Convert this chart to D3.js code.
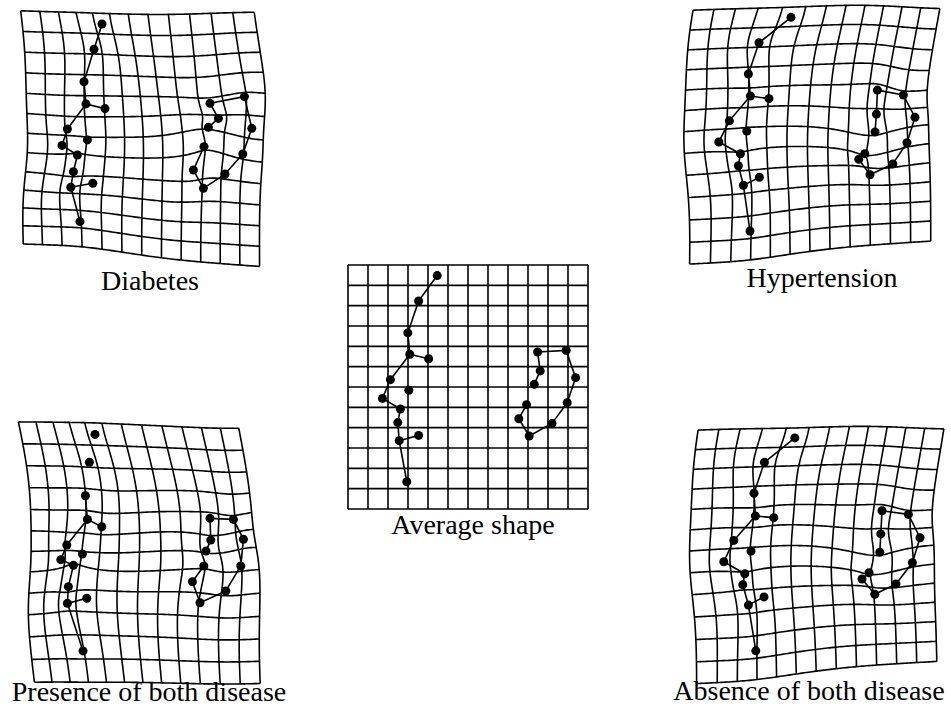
<!DOCTYPE html>
<html>
<head>
<meta charset="utf-8">
<script src="https://cdn.jsdelivr.net/npm/d3@7"></script>
<style>
  body { margin: 0; background: #fff; }
  svg { display: block; }
  text { font-family: "Liberation Serif", "Times New Roman", serif; font-size: 28px; fill: #000; }
</style>
</head>
<body>
<script>
// landmark coordinates in grid units (12 x 12 cells)
// 0-12: left chain, 13-22: right loop
const averageShape = [
  [4.46, 0.52], [3.53, 1.77], [2.99, 3.34], [3.09, 4.39], [4.03, 4.61],
  [2.12, 5.64], [3.04, 6.16], [1.72, 6.56], [2.62, 7.08], [2.49, 7.75],
  [2.56, 8.64], [3.53, 8.38], [2.94, 10.66],
  [9.48, 4.28], [10.91, 4.20], [11.38, 5.54], [10.96, 6.77], [10.20, 7.79],
  [9.06, 8.41], [8.54, 7.56], [8.93, 6.87], [9.31, 5.87], [9.61, 5.21]
]

const diabetesShape = [
  [4.10, 0.69], [3.70, 1.93], [3.20, 3.53], [3.30, 4.62], [4.25, 4.85],
  [2.37, 5.85], [3.37, 6.39], [2.10, 6.66], [2.87, 7.13], [2.67, 7.95],
  [2.54, 8.72], [3.64, 8.52], [3.00, 10.41],
  [9.50, 4.59], [11.22, 4.26], [11.59, 5.82], [11.14, 7.08], [10.25, 8.07],
  [9.17, 8.77], [8.67, 7.87], [9.20, 6.72], [9.42, 5.77], [9.92, 5.33]
]

const hypertensionShape = [
  [5.05, 0.36], [3.45, 1.61], [2.92, 3.15], [3.02, 4.23], [3.95, 4.36],
  [1.97, 5.45], [2.84, 5.95], [1.44, 6.49], [2.52, 7.07], [2.42, 7.66],
  [2.67, 8.62], [3.47, 8.23], [3.00, 10.87],
  [9.37, 3.94], [10.67, 4.18], [11.25, 5.28], [10.85, 6.53], [10.14, 7.57],
  [9.00, 8.10], [8.44, 7.34], [8.74, 7.07], [9.25, 6.00], [9.32, 5.12]
]

const presenceShape = [
  [3.85, 0.56], [3.57, 1.93], [3.37, 3.58], [3.47, 4.74], [4.19, 5.10],
  [2.44, 6.00], [3.22, 6.44], [2.14, 6.72], [2.77, 7.00], [2.52, 8.05],
  [2.47, 8.87], [3.44, 8.62], [3.25, 11.21],
  [9.60, 4.69], [10.77, 4.74], [11.27, 5.72], [11.14, 7.03], [10.39, 8.26],
  [9.10, 8.84], [8.72, 7.81], [9.29, 7.03], [9.40, 6.30], [9.64, 5.76]
]

const absenceShape = [
  [5.04, 0.39], [3.52, 1.59], [3.00, 3.11], [3.07, 4.23], [3.99, 4.31],
  [1.99, 5.43], [2.85, 5.95], [1.49, 6.48], [2.54, 7.07], [2.44, 7.61],
  [2.72, 8.61], [3.50, 8.21], [3.09, 10.86],
  [9.40, 3.97], [10.72, 4.15], [11.30, 5.30], [10.92, 6.53], [10.10, 7.57],
  [9.04, 8.08], [8.40, 7.33], [8.75, 7.02], [9.29, 6.01], [9.34, 5.11]
]

const links = [
  [0, 1], [1, 2], [2, 3], [3, 5], [5, 7], [7, 8], [8, 9], [9, 10], [10, 12],
  [3, 4], [10, 11],
  [13, 14], [14, 15], [15, 16], [16, 17], [17, 18], [18, 19], [19, 20],
  [13, 22], [22, 21]
]
// the first two links are not drawn in the "presence" panel
const linksPresence = links.slice(2)

const gridCells = 12

const panels = [
  { title: 'Average shape', shape: averageShape, links: links, ox: 348, oy: 265, tx: 473, ty: 534 },
  { title: 'Diabetes', shape: diabetesShape, links: links, ox: 20, oy: 10, tx: 150, ty: 290 },
  { title: 'Hypertension', shape: hypertensionShape, links: links, ox: 690, oy: 10, tx: 822, ty: 287 },
  { title: 'Presence of both disease', shape: presenceShape, links: linksPresence, ox: 18, oy: 423, tx: 149, ty: 701 },
  { title: 'Absence of both disease', shape: absenceShape, links: links, ox: 694, oy: 430, tx: 809, ty: 700 }
]

const width = 951
const height = 716

// thin-plate spline from source to target landmarks
function thinPlate (src, dst) {
  let n = src.length
  let U = r2 => r2 === 0 ? 0 : r2 * Math.log(r2)
  let m = n + 3
  let A = []
  for (let i = 0; i < m; i++) A.push(new Array(m + 2).fill(0))
  for (let i = 0; i < n; i++) {
    for (let j = 0; j < n; j++) {
      let dx = src[i][0] - src[j][0]
      let dy = src[i][1] - src[j][1]
      A[i][j] = U(dx * dx + dy * dy)
    }
    A[i][n] = 1; A[i][n + 1] = src[i][0]; A[i][n + 2] = src[i][1]
    A[n][i] = 1; A[n + 1][i] = src[i][0]; A[n + 2][i] = src[i][1]
    A[i][m] = dst[i][0]
    A[i][m + 1] = dst[i][1]
  }
  // gaussian elimination, partial pivoting
  for (let c = 0; c < m; c++) {
    let p = c
    for (let r = c + 1; r < m; r++) if (Math.abs(A[r][c]) > Math.abs(A[p][c])) p = r
    let tmp = A[c]; A[c] = A[p]; A[p] = tmp
    for (let r = 0; r < m; r++) {
      if (r === c) continue
      let f = A[r][c] / A[c][c]
      if (f === 0) continue
      for (let k = c; k < m + 2; k++) A[r][k] -= f * A[c][k]
    }
  }
  let wx = A.map((row, i) => row[m] / row[i])
  let wy = A.map((row, i) => row[m + 1] / row[i])

  return (x, y) => {
    let fx = wx[n] + wx[n + 1] * x + wx[n + 2] * y
    let fy = wy[n] + wy[n + 1] * x + wy[n + 2] * y
    for (let i = 0; i < n; i++) {
      let dx = x - src[i][0]
      let dy = y - src[i][1]
      let u = U(dx * dx + dy * dy)
      fx += wx[i] * u
      fy += wy[i] * u
    }
    return [fx, fy]
  }
}

const svg = d3.select('body').append('svg')
  .attr('width', width)
  .attr('height', height)

const steps = d3.range(0, gridCells + 0.001, 0.1)

panels.forEach(p => {
  let x = d3.scaleLinear().domain([0, gridCells]).range([p.ox, p.ox + 240])
  let y = d3.scaleLinear().domain([0, gridCells]).range([p.oy, p.oy + 244])
  let warp = thinPlate(averageShape, p.shape)

  let line = d3.line()
    .x(d => x(d[0]))
    .y(d => y(d[1]))

  let gridLines = []
  d3.range(gridCells + 1).forEach(k => {
    gridLines.push(steps.map(t => warp(k, t)))
    gridLines.push(steps.map(t => warp(t, k)))
  })

  let g = svg.append('g')

  g.append('g')
    .selectAll('path')
    .data(gridLines)
    .join('path')
    .attr('d', line)
    .attr('fill', 'none')
    .attr('stroke', '#000')
    .attr('stroke-width', 1.6)

  g.append('g')
    .selectAll('line')
    .data(p.links)
    .join('line')
    .attr('x1', d => x(p.shape[d[0]][0]))
    .attr('y1', d => y(p.shape[d[0]][1]))
    .attr('x2', d => x(p.shape[d[1]][0]))
    .attr('y2', d => y(p.shape[d[1]][1]))
    .attr('stroke', '#000')
    .attr('stroke-width', 1.6)

  g.append('g')
    .selectAll('circle')
    .data(p.shape)
    .join('circle')
    .attr('cx', d => x(d[0]))
    .attr('cy', d => y(d[1]))
    .attr('r', 4.5)
    .attr('fill', '#000')

  g.append('text')
    .attr('x', p.tx)
    .attr('y', p.ty)
    .attr('text-anchor', 'middle')
    .text(p.title)
})
</script>
</body>
</html>
